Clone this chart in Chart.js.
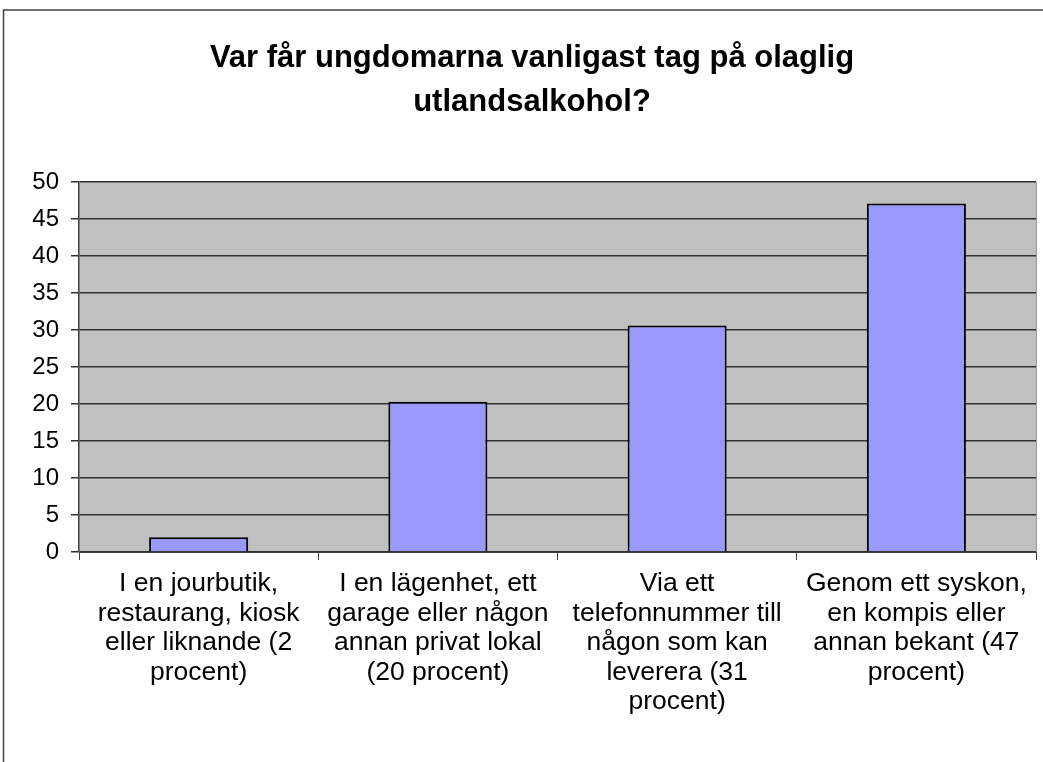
<!DOCTYPE html>
<html>
<head>
<meta charset="utf-8">
<script src="https://cdn.jsdelivr.net/npm/chart.js@4/dist/chart.umd.min.js"></script>
<style>
  html, body { margin: 0; padding: 0; background: #ffffff; }
  #wrap { position: relative; width: 1043px; height: 762px; }
</style>
</head>
<body>
<div id="wrap"><canvas id="chart" width="1043" height="762"></canvas></div>
<script>
// Data
const titleLines = ["Var får ungdomarna vanligast tag på olaglig", "utlandsalkohol?"];
const categories = [
  ["I en jourbutik,", "restaurang, kiosk", "eller liknande (2", "procent)"],
  ["I en lägenhet, ett", "garage eller någon", "annan privat lokal", "(20 procent)"],
  ["Via ett", "telefonnummer till", "någon som kan", "leverera (31", "procent)"],
  ["Genom ett syskon,", "en kompis eller", "annan bekant (47", "procent)"],
];
const values = [2, 20.3, 30.6, 47.1];
const yTicks = [0, 5, 10, 15, 20, 25, 30, 35, 40, 45, 50];

const FONT = "'Liberation Sans', Arial, sans-serif";

// Grey plot background plus the outer frame of the original picture
const backdrop = {
  id: "backdrop",
  beforeDraw(chart) {
    const { ctx, chartArea: a } = chart;
    ctx.save();
    ctx.fillStyle = "#c0c0c0";
    ctx.fillRect(a.left, a.top, a.right - a.left, a.bottom - a.top);
    ctx.strokeStyle = "#9a9a9a";
    ctx.lineWidth = 1;
    ctx.beginPath();
    ctx.moveTo(a.right + 0.5, a.top);
    ctx.lineTo(a.right + 0.5, a.bottom);
    ctx.stroke();
    // outer frame (left + top edges)
    ctx.strokeStyle = "#404040";
    ctx.lineWidth = 1.5;
    ctx.beginPath();
    ctx.moveTo(3.5, 762);
    ctx.lineTo(3.5, 10);
    ctx.lineTo(1043, 10);
    ctx.stroke();
    ctx.restore();
  },
};

new Chart(document.getElementById("chart"), {
  type: "bar",
  data: {
    labels: categories,
    datasets: [
      {
        data: values,
        backgroundColor: "#9999ff",
        borderColor: "#000000",
        borderWidth: 2,
        categoryPercentage: 1,
        barPercentage: 0.414,
      },
    ],
  },
  options: {
    responsive: false,
    animation: false,
    layout: { padding: { left: 28, right: 7, top: 0, bottom: 0 } },
    plugins: {
      legend: { display: false },
      tooltip: { enabled: false },
      title: {
        display: true,
        text: titleLines,
        color: "#000000",
        font: { family: FONT, size: 31, weight: "bold", lineHeight: 1.42 },
        padding: { top: 36, bottom: 58 },
      },
    },
    scales: {
      x: {
        offset: true,
        grid: {
          offset: true,
          drawOnChartArea: false,
          drawTicks: true,
          tickLength: 8,
          color: "#404040",
        },
        border: { color: "#404040", width: 1 },
        ticks: {
          color: "#000000",
          maxRotation: 0,
          autoSkip: false,
          padding: 9,
          font: { family: FONT, size: 26.5, lineHeight: 1.113 },
        },
        afterFit(scale) {
          scale.height = 210;
        },
      },
      y: {
        min: 0,
        max: 50,
        afterBuildTicks(scale) {
          scale.ticks = yTicks.map((v) => ({ value: v }));
        },
        grid: {
          color: "#303030",
          lineWidth: 1.5,
          drawTicks: true,
          tickLength: 8,
        },
        border: { color: "#404040", width: 1.5 },
        ticks: {
          color: "#000000",
          padding: 12,
          font: { family: FONT, size: 24 },
        },
        afterFit(scale) {
          scale.width = 51;
        },
      },
    },
  },
  plugins: [backdrop],
});
</script>
</body>
</html>
